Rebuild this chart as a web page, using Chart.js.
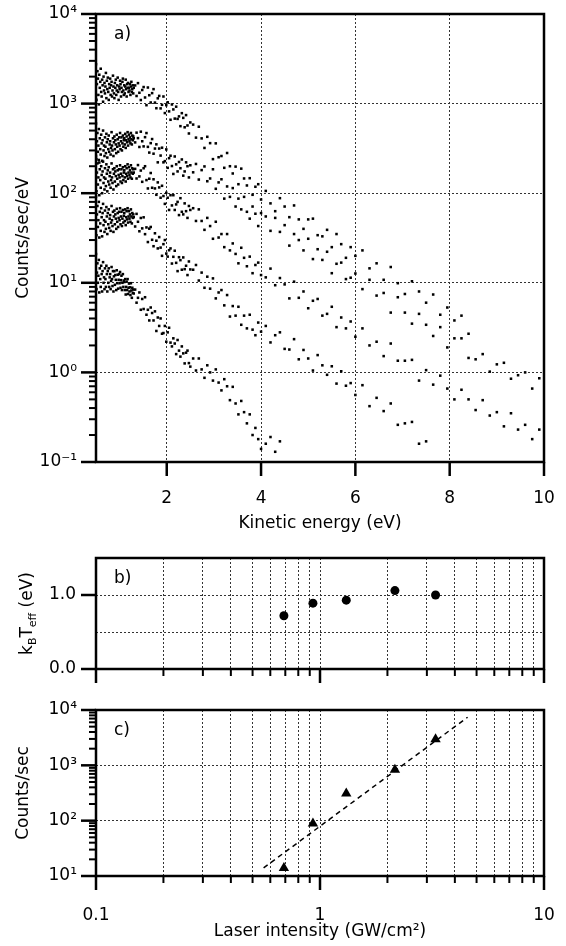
<!DOCTYPE html>
<html>
<head>
<meta charset="utf-8">
<script src="https://cdn.jsdelivr.net/npm/chart.js@4.4.1/dist/chart.umd.min.js"></script>
<style>
  html, body { margin: 0; padding: 0; background: #fff; }
  .wrap { position: relative; width: 566px; height: 946px; }
  canvas { position: absolute; left: 0; top: 0; }
</style>
</head>
<body>
<div class="wrap">
  <canvas id="chartA" width="566" height="946"></canvas>
  <canvas id="chartB" width="566" height="946"></canvas>
  <canvas id="chartC" width="566" height="946"></canvas>
</div>
<script>
// ---------------- data ----------------
const kineticEnergyTicks = [2, 4, 6, 8, 10];
const countDecadesA = [0.1, 1, 10, 100, 1000, 10000];
const intensityDecades = [0.1, 1, 10];
const intensityLabels = ['0.1', '1', '10'];
const kTTicks = [0, 0.5, 1.0];
const kTLabels = ['0.0', '', '1.0'];
const countDecadesC = [10, 100, 1000, 10000];

const energy = [
0.50,0.51,0.52,0.53,0.54,0.55,0.56,0.57,0.58,0.59,0.60,0.61,0.62,0.63,0.64,0.65,0.66,0.67,0.68,0.69,
0.70,0.71,0.72,0.73,0.74,0.75,0.76,0.77,0.78,0.79,0.80,0.81,0.82,0.83,0.84,0.85,0.86,0.87,0.88,0.89,
0.90,0.91,0.92,0.93,0.94,0.95,0.96,0.97,0.98,0.99,1.00,1.01,1.02,1.03,1.04,1.05,1.06,1.07,1.08,1.09,
1.10,1.11,1.12,1.13,1.14,1.15,1.16,1.17,1.18,1.19,1.20,1.21,1.22,1.23,1.24,1.25,1.26,1.27,1.28,1.29,1.30,
1.33,1.36,1.39,1.42,1.45,1.48,1.51,1.54,1.57,1.60,1.63,1.66,1.69,1.72,1.75,1.78,1.81,1.84,1.87,1.90,
1.93,1.96,1.99,2.02,2.05,2.08,2.11,2.14,2.17,2.20,2.23,2.26,2.29,2.32,2.35,2.38,2.41,2.44,2.47,2.50,
2.56,2.62,2.68,2.74,2.80,2.86,2.92,2.98,3.04,3.10,3.16,3.22,3.28,3.34,3.40,3.46,3.52,3.58,3.64,3.70,
3.76,3.82,3.88,3.94,4.00,
4.10,4.20,4.30,4.40,4.50,4.60,4.70,4.80,4.90,5.00,5.10,5.20,5.30,5.40,5.50,5.60,5.70,5.80,5.90,6.00,
6.15,6.30,6.45,6.60,6.75,6.90,7.05,7.20,7.35,7.50,7.65,7.80,7.95,8.10,8.25,8.40,8.55,8.70,8.85,9.00,
9.15,9.30,9.45,9.60,9.75,9.90
];

const countsA = [
2750,1100,1650,2300,1900,1250,980,2100,1500,1750,2450,1350,1200,1850,1600,1050,2000,1400,1700,1300,
1550,2200,1150,1800,1450,1950,1350,1100,1650,1500,1900,1250,1600,1750,1200,1400,2050,1550,1300,1150,
1700,1500,1850,1250,1400,1600,1950,1350,1100,1550,1450,1800,1650,1200,1500,1350,1750,1900,1400,1250,
1600,1300,1550,1850,1450,1200,1650,1500,1700,1350,1500,1400,1650,1250,1550,1750,1350,1450,1600,1300,1500,
1595,1216,1692,1321,1096,1418,1530,1170,960,1512,1240,1029,1309,1450,1026,888,1145,1219,884,969,
1200,784,960,1034,819,660,978,861,680,924,675,720,560,782,693,544,744,570,464,616,
583,417,552,409,320,426,362,240,360,252,260,192,281,200,166,198,126,188,146,122,
147,96,118,126,85,
106,77,63,88,71,54,73,51,40,51,52,34,33,39,25,35,27,19,25,20,
23,14.5,16.5,10.8,15,9.9,7.5,10.4,8,6,7.4,4.4,5.3,3.8,4.3,2.7
];

const countsB = [
600,240,380,470,290,340,520,220,410,310,270,450,360,230,390,500,300,340,260,420,
330,280,460,370,250,400,310,440,290,350,380,270,320,480,340,300,410,260,370,430,
310,390,350,280,450,330,400,290,360,420,340,470,310,380,420,300,360,440,330,390,
410,350,460,320,390,430,370,480,340,400,450,380,420,360,470,400,350,440,390,430,410,
369,474,412,328,486,380,333,422,469,329,284,362,402,276,315,351,221,315,263,322,
221,228,308,192,246,262,201,164,257,210,175,223,190,238,157,175,221,200,150,205,
171,212,142,181,199,136,146,185,112,132,143,87,119,91,114,71,87,66,91,62,
52,71,59,43,60,
55,38,53,37,44,26,35,30,23,31,18.4,23.7,18,22.2,12.8,16.3,16.8,11,11.4,12.7,
8.5,10.8,7.2,7.7,4.65,6.9,4.65,3.5,4.5,3.4,2.55,3.2,1.9,2.4,2.4,1.45,1.4,1.6,1.02,1.23,
1.28,0.85,0.93,1.0,0.66,0.86
];

const countsC = [
260,105,170,215,125,150,235,95,185,140,115,200,160,100,175,225,130,150,110,190,
145,120,210,165,105,180,135,195,125,155,170,115,140,215,150,130,185,110,165,190,
135,175,155,120,200,145,180,125,160,185,150,205,135,165,185,130,155,195,140,170,
180,150,200,135,165,190,155,210,145,170,195,160,180,150,205,170,145,190,165,185,170,
187,146,206,154,179,134,190,200,140,113,145,168,115,143,113,96,132,116,89,121,
93,76,101,89,65,95,73,95,65,75,80,57,88,62,58,77,63,53,72,65,
68,49,66,49,39,53,43,31,48,32,35,25,35,23,27.5,21,16.5,24.6,19,15.3,
19.6,12.8,15.8,16.8,12.2,
11.5,14.4,9.4,11.3,9.6,6.7,10.3,6.8,8,5.2,6.3,6.6,4.3,4.5,5.4,3.2,4.1,3.1,3.7,2.5,
3.1,2.0,2.2,1.52,2.1,1.35,1.35,1.38,0.81,1.06,0.73,0.92,0.66,0.5,0.64,0.5,0.38,0.49,0.33,0.36,
0.25,0.35,0.23,0.26,0.18,0.23
];

const countsD = [
92,34,58,72,42,50,80,32,62,46,38,68,54,33,60,76,44,50,37,64,
48,40,70,55,35,60,45,66,41,52,57,38,47,72,50,43,62,37,55,64,
45,58,52,40,67,48,60,42,53,62,50,68,45,55,62,43,52,65,47,56,
60,49,66,44,54,63,51,68,47,55,63,52,58,48,66,55,46,60,53,58,54,
42.5,58.8,48,37.6,52.9,40.5,53.8,34.9,41.5,28.5,40.2,42,30.2,25.6,35.7,29.5,24.2,32.4,24.7,20,
27,30,21.2,19.6,23.1,24.2,16.4,19.5,22.8,16.7,13.5,19.3,17.9,14,19.2,14.2,15.5,12.2,17.3,14.1,
14,15.8,10.6,13,8.8,11.7,8.6,11.2,6.7,7.8,8.3,5.6,7.3,4.2,5.5,4.3,5.4,3.4,4.3,3.1,
4.4,3.0,2.6,3.6,2.85,
3.3,2.16,2.6,2.8,1.83,1.8,2.35,1.4,1.78,1.43,1.05,1.56,1.2,0.94,1.17,0.75,1.03,0.71,0.76,0.56,
0.72,0.42,0.52,0.37,0.45,0.26,0.27,0.28,0.16,0.17
];

const countsE = [
21,8.5,13,16.5,10,12,18,7.8,14.5,11,9,15.5,12.5,8,13.5,17,10,11.5,8.5,14.5,
11,9,15.5,12.5,8,13.5,10,14.5,9,11.5,12.5,8.5,10.5,15,11,9.2,13.5,8,11.8,13.5,
9.5,12.2,10.8,8.3,13.8,9.9,12.3,8.6,10.8,12.5,9.9,13.2,8.8,10.7,12,8.3,10,12.5,9,10.6,
10.2,8.3,11,7.4,9,10.3,8.3,11,7.5,8.8,9.8,8,8.9,7.3,9.9,8.2,6.8,8.8,7.7,8.4,7.6,
8.4,6.0,6.8,7.8,5.0,6.6,5.1,6.9,4.4,5.0,3.8,5.3,4.6,3.8,4.8,2.9,4.1,3.3,4.0,2.7,
2.75,3.3,2.2,2.8,3.15,2.15,1.95,2.4,2.1,1.6,2.3,1.75,1.5,1.95,1.63,1.26,1.66,1.75,1.27,1.16,
1.43,1.05,1.43,1.08,0.87,1.2,1.0,0.81,1.08,0.77,0.63,0.84,0.7,0.49,0.69,0.45,0.34,0.48,0.36,0.27,
0.34,0.2,0.24,0.18,0.14,
0.16,0.19,0.13,0.17
];

const intensity = [0.69, 0.93, 1.31, 2.16, 3.28];
const kTeff = [0.72, 0.89, 0.93, 1.06, 1.00];
const totalCounts = [14, 89, 310, 830, 2950];
const fitIntensity = [0.56, 4.56];
const fitCounts = [14, 7400];

// ---------------- helpers ----------------
const FAMILY = "'DejaVu Sans', 'Liberation Sans', sans-serif";
const FONT = { family: FAMILY, size: 17 };
const GRID = '#333';
const NONE = 'rgba(0,0,0,0)';
const SUP = {'-':'\u207B','0':'\u2070','1':'\u00B9','2':'\u00B2','3':'\u00B3','4':'\u2074','5':'\u2075','6':'\u2076','7':'\u2077','8':'\u2078','9':'\u2079'};
const isDecade = v => Math.abs(Math.log10(v) - Math.round(Math.log10(v))) < 1e-6;
const decadeLabel = v => '10' + String(Math.round(Math.log10(v))).split('').map(c => SUP[c]).join('');
function logTickValues(decades) {
  const out = [];
  for (let i = 0; i < decades.length - 1; i++) for (let k = 1; k < 10; k++) out.push(decades[i] * k);
  out.push(decades[decades.length - 1]);
  return out;
}
const near = (a, b) => Math.abs(a - b) < 1e-9 * Math.max(1, Math.abs(b));

// grid with invisible tick marks used as label offset (keeps layout padding unaffected)
function gridOpts(colorFn, offset) {
  return { drawTicks: true, tickLength: offset, tickColor: NONE, lineWidth: 1, color: colorFn };
}

const framePlugin = {
  id: 'frame',
  afterDraw(chart, args, o) {
    const { ctx, chartArea: a, scales } = chart;
    ctx.save();
    ctx.strokeStyle = '#000';
    ctx.lineCap = 'butt';
    for (const t of scales.x.ticks) {
      const len = o.xTickLen(t.value);
      if (!len) continue;
      const px = scales.x.getPixelForValue(t.value);
      ctx.lineWidth = len > 10 ? 2.5 : 2;
      ctx.beginPath(); ctx.moveTo(px, a.bottom); ctx.lineTo(px, a.bottom + len); ctx.stroke();
    }
    for (const t of scales.y.ticks) {
      const len = o.yTickLen(t.value);
      if (!len) continue;
      const py = scales.y.getPixelForValue(t.value);
      ctx.lineWidth = len > 10 ? 2.5 : 2;
      ctx.beginPath(); ctx.moveTo(a.left - len, py); ctx.lineTo(a.left, py); ctx.stroke();
    }
    ctx.lineWidth = 2.5;
    ctx.strokeRect(a.left, a.top, a.right - a.left, a.bottom - a.top);
    ctx.fillStyle = '#000';
    ctx.font = '17px ' + FAMILY;
    ctx.textBaseline = 'middle';
    ctx.textAlign = 'left';
    ctx.fillText(o.label, a.left + 18, a.top + 21);
    if (o.richTitle) {
      ctx.translate(o.richTitle.x, (a.top + a.bottom) / 2);
      ctx.rotate(-Math.PI / 2);
      ctx.textBaseline = 'alphabetic';
      const parts = o.richTitle.parts;
      let total = 0;
      for (const p of parts) { ctx.font = p[1] + 'px ' + FAMILY; total += ctx.measureText(p[0]).width; }
      let x = -total / 2;
      for (const p of parts) {
        ctx.font = p[1] + 'px ' + FAMILY;
        ctx.fillText(p[0], x, p[2]);
        x += ctx.measureText(p[0]).width;
      }
    }
    ctx.restore();
  }
};

function baseOptions(padding) {
  return {
    responsive: false,
    animation: false,
    devicePixelRatio: 1,
    layout: { padding },
    events: []
  };
}

function logAxis(decades, opts) {
  const first = decades[0], last = decades[decades.length - 1];
  return Object.assign({
    type: 'logarithmic',
    min: first, max: last,
    afterBuildTicks: s => { s.ticks = logTickValues(decades).map(v => ({ value: v })); },
    border: { display: false, dash: [2, 2] }
  }, opts);
}

// ---------------- panel a ----------------
const spectra = [countsA, countsB, countsC, countsD, countsE];
new Chart(document.getElementById('chartA'), {
  type: 'scatter',
  data: {
    datasets: spectra.map(c => ({
      data: c.map((y, i) => ({ x: energy[i], y })),
      pointStyle: 'rect', pointRadius: 1.8, backgroundColor: '#000', borderWidth: 0
    }))
  },
  options: Object.assign(baseOptions({ left: 0, right: 22, top: 14, bottom: 404 }), {
    scales: {
      x: {
        type: 'linear', min: 0.5, max: 10,
        afterBuildTicks: s => { s.ticks = kineticEnergyTicks.map(v => ({ value: v })); },
        afterFit: s => { s.height = 80; },
        border: { display: false, dash: [2, 2] },
        grid: gridOpts(c => (c.tick && c.tick.value < 10) ? GRID : NONE, 26),
        ticks: { font: FONT, color: '#000', padding: 0, autoSkip: false, maxRotation: 0 },
        title: { display: true, text: 'Kinetic energy (eV)', font: FONT, color: '#000', padding: { top: 0, bottom: 8 } }
      },
      y: logAxis(countDecadesA, {
        afterFit: s => { s.width = 96; },
        grid: gridOpts(c => (c.tick && isDecade(c.tick.value) && c.tick.value > 0.11 && c.tick.value < 9000) ? GRID : NONE, 19),
        ticks: { font: FONT, color: '#000', padding: 0, autoSkip: false, callback: v => isDecade(v) ? decadeLabel(v) : '' },
        title: { display: true, text: 'Counts/sec/eV', font: FONT, color: '#000', padding: { top: 13, bottom: 0 } }
      })
    },
    plugins: {
      legend: { display: false }, tooltip: { enabled: false },
      frame: { label: 'a)', xTickLen: v => 14, yTickLen: v => isDecade(v) ? 15 : 7 }
    }
  }),
  plugins: [framePlugin]
});

// ---------------- panel b ----------------
new Chart(document.getElementById('chartB'), {
  type: 'scatter',
  data: {
    datasets: [{
      data: intensity.map((x, i) => ({ x, y: kTeff[i] })),
      pointStyle: 'circle', pointRadius: 4.5, backgroundColor: '#000', borderWidth: 0
    }]
  },
  options: Object.assign(baseOptions({ left: 0, right: 22, top: 558, bottom: 237 }), {
    scales: {
      x: logAxis(intensityDecades, {
        afterFit: s => { s.height = 40; },
        grid: gridOpts(c => (c.tick && c.tick.value > 0.11 && c.tick.value < 9.5) ? GRID : NONE, 10),
        ticks: { display: false }
      }),
      y: {
        type: 'linear', min: 0, max: 1.5,
        afterBuildTicks: s => { s.ticks = kTTicks.map(v => ({ value: v })); },
        afterFit: s => { s.width = 96; },
        border: { display: false, dash: [2, 2] },
        grid: gridOpts(c => (c.tick && c.tick.value > 0.01) ? GRID : NONE, 20),
        ticks: { font: FONT, color: '#000', padding: 0, autoSkip: false, callback: (v) => { const i = kTTicks.findIndex(t => near(t, v)); return i >= 0 ? kTLabels[i] : ''; } },
        title: { display: false }
      }
    },
    plugins: {
      legend: { display: false }, tooltip: { enabled: false },
      frame: {
        label: 'b)',
        xTickLen: v => isDecade(v) ? 14 : 7,
        yTickLen: v => (near(v, 0) || near(v, 1)) ? 15 : 0,
        richTitle: { x: 32, parts: [['k', 17, 0], ['B', 11, 4], ['T', 17, 0], ['eff', 11, 4], [' (eV)', 17, 0]] }
      }
    }
  }),
  plugins: [framePlugin]
});

// ---------------- panel c ----------------
new Chart(document.getElementById('chartC'), {
  type: 'scatter',
  data: {
    datasets: [
      {
        data: intensity.map((x, i) => ({ x, y: totalCounts[i] })),
        pointStyle: 'triangle', pointRadius: 6, backgroundColor: '#000', borderWidth: 0
      },
      {
        data: fitIntensity.map((x, i) => ({ x, y: fitCounts[i] })),
        showLine: true, borderColor: '#000', borderWidth: 1.5, borderDash: [5, 4], pointRadius: 0, fill: false
      }
    ]
  },
  options: Object.assign(baseOptions({ left: 0, right: 22, top: 710, bottom: 0 }), {
    scales: {
      x: logAxis(intensityDecades, {
        afterFit: s => { s.height = 70; },
        grid: gridOpts(c => (c.tick && c.tick.value > 0.11 && c.tick.value < 9.5) ? GRID : NONE, 29),
        ticks: { font: FONT, color: '#000', padding: 0, autoSkip: false, maxRotation: 0,
          callback: v => { const i = intensityDecades.findIndex(t => near(t, v)); return i >= 0 ? intensityLabels[i] : ''; } },
        title: { display: true, text: 'Laser intensity (GW/cm\u00B2)', font: FONT, color: '#000', padding: { top: 0, bottom: 4 } }
      }),
      y: logAxis(countDecadesC, {
        afterFit: s => { s.width = 96; },
        grid: gridOpts(c => (c.tick && isDecade(c.tick.value) && c.tick.value > 11 && c.tick.value < 9000) ? GRID : NONE, 19),
        ticks: { font: FONT, color: '#000', padding: 0, autoSkip: false, callback: v => isDecade(v) ? decadeLabel(v) : '' },
        title: { display: true, text: 'Counts/sec', font: FONT, color: '#000', padding: { top: 13, bottom: 0 } }
      })
    },
    plugins: {
      legend: { display: false }, tooltip: { enabled: false },
      frame: { label: 'c)', xTickLen: v => isDecade(v) ? 14 : 7, yTickLen: v => isDecade(v) ? 15 : 7 }
    }
  }),
  plugins: [framePlugin]
});
</script>
</body>
</html>
